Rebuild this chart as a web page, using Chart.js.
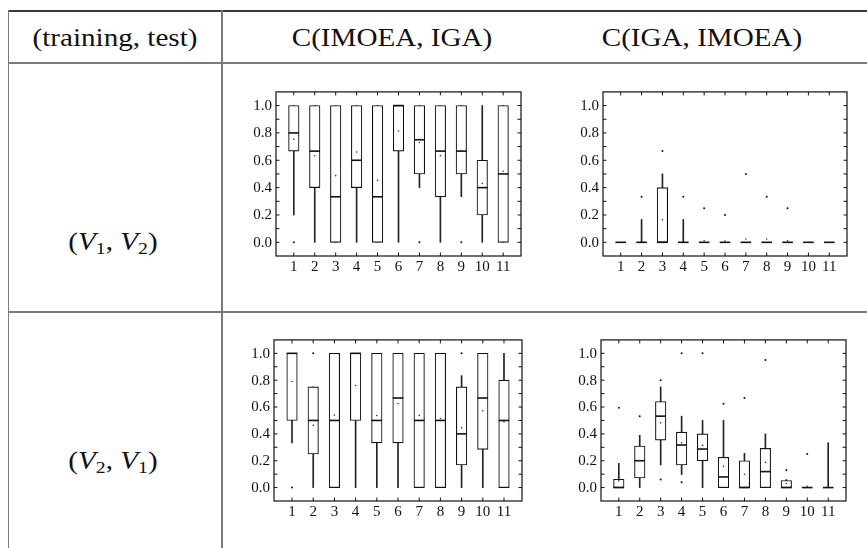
<!DOCTYPE html>
<html>
<head>
<meta charset="utf-8">
<script src="https://cdn.jsdelivr.net/npm/chart.js@4.4.1/dist/chart.umd.min.js"></script>
<style>
html, body { margin: 0; padding: 0; background: #fff; }
body { width: 867px; height: 548px; position: relative; overflow: hidden; font-family: "Liberation Serif", serif; color: #111; }
.rule { position: absolute; background: #7a7a7a; }
.txt { position: absolute; white-space: nowrap; font-size: 26px; transform: translate(-50%, -50%) scaleX(1.12); }
.txt sub { font-size: 0.68em; vertical-align: -0.25em; }
.box { position: absolute; }
</style>
</head>
<body>
<div class="rule" style="left:8px;top:10px;width:859px;height:1.5px;background:#3a3a3a"></div>
<div class="rule" style="left:8px;top:62px;width:859px;height:1.5px"></div>
<div class="rule" style="left:8px;top:311px;width:859px;height:1.5px"></div>
<div class="rule" style="left:7.5px;top:10px;width:1.5px;height:538px"></div>
<div class="rule" style="left:221px;top:10px;width:1.5px;height:538px"></div>

<div class="txt" style="left:115px;top:38px">(training, test)</div>
<div class="txt" style="left:392px;top:38px">C(IMOEA, IGA)</div>
<div class="txt" style="left:702px;top:38px">C(IGA, IMOEA)</div>
<div class="txt" style="left:113px;top:243px">(<i>V</i><sub>1</sub>, <i>V</i><sub>2</sub>)</div>
<div class="txt" style="left:113px;top:462px">(<i>V</i><sub>2</sub>, <i>V</i><sub>1</sub>)</div>

<div class="box" id="wrapA"><canvas id="chartA"></canvas></div>
<div class="box" id="wrapB"><canvas id="chartB"></canvas></div>
<div class="box" id="wrapC"><canvas id="chartC"></canvas></div>
<div class="box" id="wrapD"><canvas id="chartD"></canvas></div>

<script>
// categories and y ticks
const categories = [1, 2, 3, 4, 5, 6, 7, 8, 9, 10, 11];
const yTickValues = [0.0, 0.1, 0.2, 0.3, 0.4, 0.5, 0.6, 0.7, 0.8, 0.9, 1.0];
const yLabelValues = [0.0, 0.2, 0.4, 0.6, 0.8, 1.0];

// (V1, V2)  C(IMOEA, IGA)
const aLow    = [0.20, 0, 0, 0, 0, 0, 0.40, 0, 0.333, 0, 0];
const aQ1     = [0.667, 0.40, 0, 0.40, 0, 0.667, 0.50, 0.333, 0.50, 0.20, 0];
const aMedian = [0.80, 0.667, 0.333, 0.60, 0.333, 1.0, 0.75, 0.667, 0.667, 0.40, 0.50];
const aQ3     = [1, 1, 1, 1, 1, 1, 1, 1, 1, 0.60, 1];
const aHigh   = [1, 1, 1, 1, 1, 1, 1, 1, 1, 1, 1];
const aMean   = [0.754, 0.633, 0.488, 0.66, 0.454, 0.814, 0.73, 0.633, 0.667, 0.43, 0.52];
const aOutliers = [[1, 0], [7, 0], [9, 0]];

// (V1, V2)  C(IGA, IMOEA)
const bLow    = [0, 0, 0, 0, 0, 0, 0, 0, 0, 0, 0];
const bQ1     = [0, 0, 0, 0, 0, 0, 0, 0, 0, 0, 0];
const bMedian = [0, 0, 0, 0, 0, 0, 0, 0, 0, 0, 0];
const bQ3     = [0, 0, 0.40, 0, 0, 0, 0, 0, 0, 0, 0];
const bHigh   = [0, 0.167, 0.50, 0.167, 0, 0, 0, 0, 0, 0, 0];
const bMean   = [0, 0.03, 0.165, 0.03, 0.012, 0.01, 0.024, 0.024, 0.012, 0, 0];
const bOutliers = [[2, 0.333], [3, 0.667], [4, 0.333], [5, 0.25], [6, 0.20], [7, 0.50], [8, 0.333], [9, 0.25]];

// (V2, V1)  C(IMOEA, IGA)
const cLow    = [0.333, 0, 0, 0, 0, 0, 0, 0, 0, 0, 0];
const cQ1     = [0.50, 0.25, 0, 0.50, 0.333, 0.333, 0, 0, 0.168, 0.285, 0];
const cMedian = [1.0, 0.50, 0.50, 1.0, 0.50, 0.667, 0.50, 0.50, 0.40, 0.667, 0.50];
const cQ3     = [1, 0.75, 1, 1, 1, 1, 1, 1, 0.75, 1, 0.80];
const cHigh   = [1, 0.75, 1, 1, 1, 1, 1, 1, 0.834, 1, 1];
const cMean   = [0.79, 0.463, 0.54, 0.76, 0.537, 0.626, 0.537, 0.515, 0.445, 0.572, 0.49];
const cOutliers = [[1, 0], [2, 1.0], [9, 1.0]];

// (V2, V1)  C(IGA, IMOEA)
const dLow    = [0, 0, 0.168, 0.097, 0, 0, 0, 0, 0, 0, 0];
const dQ1     = [0, 0.072, 0.354, 0.168, 0.20, 0, 0, 0, 0, 0, 0];
const dMedian = [0, 0.20, 0.532, 0.317, 0.287, 0.079, 0, 0.119, 0, 0, 0];
const dQ3     = [0.062, 0.31, 0.641, 0.413, 0.40, 0.225, 0.20, 0.292, 0.052, 0, 0];
const dHigh   = [0.18, 0.389, 0.75, 0.532, 0.50, 0.50, 0.255, 0.40, 0.06, 0, 0.334];
const dMean   = [0.05, 0.2, 0.483, 0.334, 0.314, 0.158, 0.099, 0.188, 0.03, 0.01, 0.067];
const dOutliers = [[1, 0.594], [2, 0.532], [3, 0.80], [3, 0.06], [4, 1.0], [4, 0.04], [5, 1.0], [6, 0.624], [7, 0.668], [8, 0.95], [9, 0.131], [10, 0.25]];

const INK = "#111";
const LABEL_FONT = "15px 'Liberation Serif', 'Times New Roman', serif";

// frame, inward ticks on all four sides, and tick labels
const framePlugin = {
    id: "frame",
    afterDraw(chart) {
        const { ctx, chartArea: a, scales: { x, y } } = chart;
        ctx.save();
        ctx.strokeStyle = INK;
        ctx.lineWidth = 1.2;
        ctx.strokeRect(a.left, a.top, a.right - a.left, a.bottom - a.top);
        ctx.lineWidth = 1;
        ctx.beginPath();
        y.ticks.forEach((t) => {
            const py = y.getPixelForValue(t.value);
            ctx.moveTo(a.left, py); ctx.lineTo(a.left + 3.5, py);
            ctx.moveTo(a.right, py); ctx.lineTo(a.right - 3.5, py);
        });
        x.ticks.forEach((t) => {
            const px = x.getPixelForValue(t.value);
            ctx.moveTo(px, a.bottom); ctx.lineTo(px, a.bottom - 3.5);
            ctx.moveTo(px, a.top); ctx.lineTo(px, a.top + 3.5);
        });
        ctx.stroke();

        ctx.font = LABEL_FONT;
        ctx.fillStyle = INK;
        ctx.textAlign = "right";
        ctx.textBaseline = "middle";
        yLabelValues.forEach((v) => ctx.fillText(v.toFixed(1), a.left - 4, y.getPixelForValue(v) + 0.5));
        ctx.textAlign = "center";
        ctx.textBaseline = "top";
        categories.forEach((c) => ctx.fillText(String(c), x.getPixelForValue(c), a.bottom + 4));
        ctx.restore();
    }
};

function makeBoxChart(id, area, low, q1, median, q3, high, mean, outliers) {
    const wrap = document.getElementById("wrap" + id);
    const canvas = document.getElementById("chart" + id);
    const w = area.right - area.left + 52, h = area.bottom - area.top + 30;
    wrap.style.left = (area.left - 44) + "px";
    wrap.style.top = (area.top - 6) + "px";
    canvas.width = w; canvas.height = h;
    canvas.style.width = w + "px"; canvas.style.height = h + "px";

    const range = (from, to) => categories.map((c, i) => ({ x: c, y: [from[i], to[i]] }));
    const points = (vals) => categories.map((c, i) => ({ x: c, y: vals[i] }));

    return new Chart(canvas.getContext("2d"), {
        type: "bar",
        data: {
            datasets: [
                { data: range(low, q1), backgroundColor: "#222", borderWidth: 0, barThickness: 1, grouped: false, order: 6 },
                { data: range(q3, high), backgroundColor: "#222", borderWidth: 0, barThickness: 1, grouped: false, order: 5 },
                { data: range(q1, q3), backgroundColor: "#fff", borderColor: INK, borderWidth: 1.1, borderSkipped: false, barThickness: 10.5, grouped: false, order: 4 },
                { type: "scatter", data: points(median), pointStyle: "line", pointRadius: 5.3, pointBorderWidth: 1.6, pointBorderColor: INK, order: 3 },
                { type: "scatter", data: points(mean), pointStyle: "circle", pointRadius: 0.8, pointBackgroundColor: "#333", pointBorderWidth: 0, order: 2 },
                { type: "scatter", data: outliers.map(([c, v]) => ({ x: c, y: v })), pointStyle: "circle", pointRadius: 1, pointBackgroundColor: INK, pointBorderWidth: 0, order: 1 }
            ]
        },
        options: {
            responsive: false,
            animation: false,
            layout: { padding: { left: 4, top: 6, right: 8, bottom: 0 } },
            plugins: { legend: { display: false }, tooltip: { enabled: false } },
            scales: {
                x: {
                    type: "linear", offset: false, min: 0.15, max: 11.85,
                    grid: { display: false, drawTicks: false }, border: { display: false },
                    afterBuildTicks: (s) => { s.ticks = categories.map((v) => ({ value: v })); },
                    afterFit: (s) => { s.height = 24; },
                    ticks: { display: false }
                },
                y: {
                    type: "linear", min: -0.1, max: 1.1,
                    grid: { display: false, drawTicks: false }, border: { display: false },
                    afterBuildTicks: (s) => { s.ticks = yTickValues.map((v) => ({ value: v })); },
                    afterFit: (s) => { s.width = 40; },
                    ticks: { display: false }
                }
            }
        },
        plugins: [framePlugin]
    });
}

makeBoxChart("A", { left: 276, right: 521, top: 91, bottom: 256 }, aLow, aQ1, aMedian, aQ3, aHigh, aMean, aOutliers);
makeBoxChart("B", { left: 603, right: 847, top: 91, bottom: 256 }, bLow, bQ1, bMedian, bQ3, bHigh, bMean, bOutliers);
makeBoxChart("C", { left: 274, right: 522, top: 339, bottom: 501 }, cLow, cQ1, cMedian, cQ3, cHigh, cMean, cOutliers);
makeBoxChart("D", { left: 601, right: 846, top: 339, bottom: 501 }, dLow, dQ1, dMedian, dQ3, dHigh, dMean, dOutliers);
</script>
</body>
</html>
